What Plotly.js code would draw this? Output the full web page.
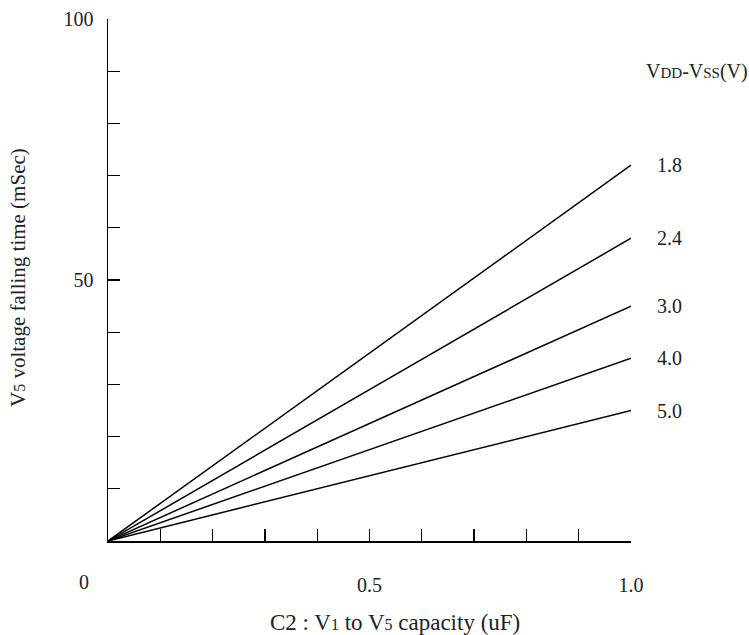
<!DOCTYPE html>
<html><head><meta charset="utf-8">
<script src="https://cdn.plot.ly/plotly-3.0.1.min.js"></script>
<style>html,body{margin:0;padding:0;background:#fff}#c{width:749px;height:635px}</style>
</head><body><div id="c"></div>
<script>
const capacity = [0, 1.0];
const seriesNames = ['1.8', '2.4', '3.0', '4.0', '5.0'];
const fallTime = [
  [0, 72],
  [0, 58],
  [0, 45],
  [0, 35],
  [0, 25]
];
const xTickVals = [0, 0.1, 0.2, 0.3, 0.4, 0.5, 0.6, 0.7, 0.8, 0.9, 1.0];
const xTickText = ['', '', '', '', '', '0.5', '', '', '', '', '1.0'];
const yTickVals = [0, 10, 20, 30, 40, 50, 60, 70, 80, 90, 100];
const yTickText = ['', '', '', '', '', '50', '', '', '', '', '100'];

const FONT = 'Liberation Serif, Times New Roman, serif';
const TXT = '#222';
const traces = seriesNames.map((n, i) => ({
  x: capacity, y: fallTime[i], mode: 'lines', name: n,
  line: {color: '#000', width: 1.5}, hoverinfo: 'skip'
}));

const annotations = seriesNames.map((n, i) => ({
  x: capacity[capacity.length - 1], y: fallTime[i][fallTime[i].length - 1],
  xref: 'x', yref: 'y', text: n, showarrow: false,
  xanchor: 'left', yanchor: 'middle', xshift: 24,
  font: {family: FONT, size: 20, color: TXT}
}));
annotations.push({
  x: 1.0, y: 90, xref: 'x', yref: 'y', xanchor: 'left', yanchor: 'middle', xshift: 13,
  showarrow: false,
  text: 'V<span style="font-size:15px">DD</span>-V<span style="font-size:15px">SS</span>(V)',
  font: {family: FONT, size: 20, color: TXT}
});
annotations.push({
  x: 0, y: 0, xref: 'x', yref: 'y', xanchor: 'center', yanchor: 'middle',
  xshift: -24, yshift: -41, showarrow: false, text: '0',
  font: {family: FONT, size: 20, color: TXT}
});
annotations.push({
  x: 0.548, y: 0, xref: 'x', yref: 'paper', xanchor: 'center', yanchor: 'middle',
  yshift: -81, showarrow: false,
  text: 'C2 : V<span style="font-size:16px">1</span> to V<span style="font-size:16px">5</span> capacity (uF)',
  font: {family: FONT, size: 23, color: TXT}
});
annotations.push({
  x: 0, y: 0.5, xref: 'paper', yref: 'paper', xanchor: 'center', yanchor: 'middle',
  xshift: -90, yshift: 2, textangle: -90, showarrow: false,
  text: 'V<span style="font-size:16px">5</span> voltage falling time (mSec)',
  font: {family: FONT, size: 21, color: TXT}
});

const layout = {
  width: 749, height: 635,
  margin: {l: 108, r: 118, t: 19, b: 94, pad: 0},
  paper_bgcolor: '#fff', plot_bgcolor: '#fff',
  showlegend: false,
  xaxis: {
    range: [0, 1], tickmode: 'array', tickvals: xTickVals, ticktext: xTickText,
    ticks: 'inside', ticklen: 12, tickwidth: 1.3, tickcolor: '#000',
    showline: true, linecolor: '#000', linewidth: 1.5, showgrid: false, zeroline: false,
    ticklabelstandoff: 25, tickfont: {family: FONT, size: 20, color: TXT}, fixedrange: true
  },
  yaxis: {
    range: [0, 100], tickmode: 'array', tickvals: yTickVals, ticktext: yTickText,
    ticks: 'inside', ticklen: 12, tickwidth: 1.3, tickcolor: '#000',
    showline: true, linecolor: '#000', linewidth: 1.5, showgrid: false, zeroline: false,
    ticklabelstandoff: 9, tickfont: {family: FONT, size: 20, color: TXT}, fixedrange: true
  },
  annotations: annotations
};
Plotly.newPlot('c', traces, layout, {displayModeBar: false, staticPlot: true});
</script></body></html>
